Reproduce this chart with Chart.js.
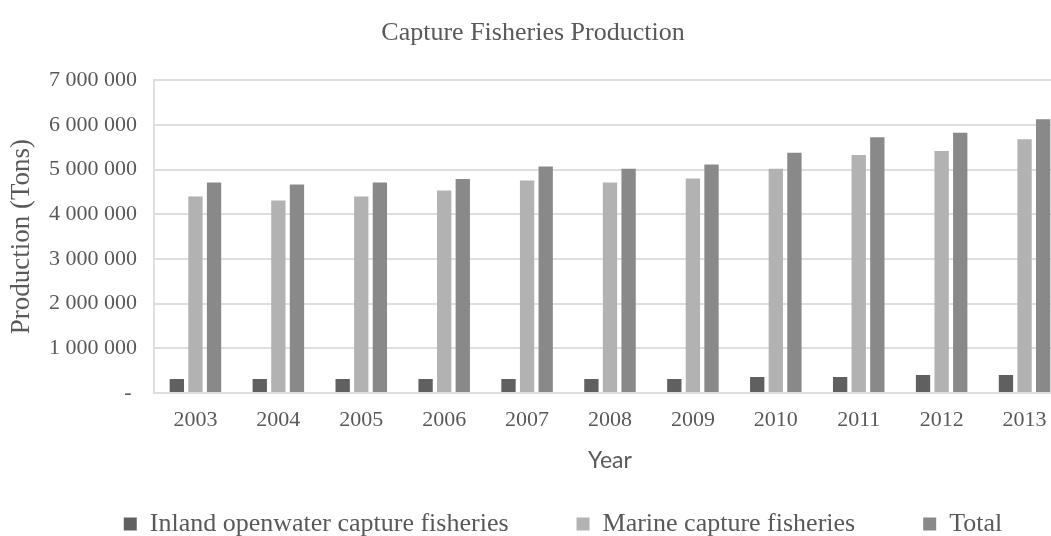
<!DOCTYPE html>
<html>
<head>
<meta charset="utf-8">
<script src="https://cdn.jsdelivr.net/npm/chart.js@4/dist/chart.umd.min.js"></script>
<style>
	html, body { margin: 0; padding: 0; background: #fff; overflow: hidden; }
	#myChart { display: block; }
</style>
</head>
<body>
<canvas id="myChart" width="1066" height="536" style="width:1066px;height:536px"></canvas>
<script>
const years = ["2003", "2004", "2005", "2006", "2007", "2008", "2009", "2010", "2011", "2012", "2013"];
const inland = [313000, 313000, 313000, 313000, 313000, 313000, 313000, 358000, 358000, 402000, 402000];
const marine = [4395000, 4306000, 4395000, 4530000, 4753000, 4708000, 4798000, 5021000, 5328000, 5417000, 5679000];
const total = [4708000, 4664000, 4708000, 4791000, 5066000, 5021000, 5111000, 5379000, 5723000, 5826000, 6126000];
const yTicks = [0, 1000000, 2000000, 3000000, 4000000, 5000000, 6000000, 7000000];

const textColor = "#595959";
const gridColor = "#dedede";

Chart.defaults.font.family = "'Liberation Serif', 'Times New Roman', serif";
Chart.defaults.color = textColor;

// thousands grouped with spaces, zero shown as a dash
const formatTons = (v) => (v === 0 ? "- " : v.toLocaleString("en-US").replace(/,/g, " "));

// the legend sits a little right of the title
const legendNudge = {
	id: "legendNudge",
	afterLayout(chart) {
		chart.legend.left += 30;
		chart.legend.right += 30;
	},
};

const ctx = document.getElementById("myChart").getContext("2d");
new Chart(ctx, {
	type: "bar",
	data: {
		labels: years,
		datasets: [
			{ label: "Inland openwater capture fisheries", data: inland, backgroundColor: "#606060" },
			{ label: "Marine capture fisheries", data: marine, backgroundColor: "#b2b2b2" },
			{ label: "Total", data: total, backgroundColor: "#898989" },
		],
	},
	options: {
		responsive: false,
		animation: false,
		devicePixelRatio: 1,
		layout: { padding: { left: 0, right: 0, top: 0, bottom: -11 } },
		datasets: {
			bar: { categoryPercentage: 0.673, barPercentage: 0.77 },
		},
		plugins: {
			title: {
				display: true,
				text: "Capture Fisheries Production",
				color: textColor,
				font: { size: 26, weight: "normal" },
				padding: { top: 18, bottom: 31 },
			},
			legend: {
				position: "bottom",
				labels: {
					boxWidth: 13,
					boxHeight: 13,
					padding: 68,
					color: textColor,
					font: { size: 26 },
				},
			},
			tooltip: { enabled: false },
		},
		scales: {
			x: {
				grid: { display: false, drawTicks: false },
				border: { display: true, color: gridColor, width: 2 },
				ticks: { padding: 14, font: { size: 22 }, color: textColor },
				title: {
					display: true,
					text: "Year",
					color: textColor,
					font: { family: "Lato, 'Open Sans', sans-serif", size: 23 },
					// tick padding counts twice in the axis height, so pull the title box up
					padding: { top: -1, bottom: -31 },
				},
			},
			y: {
				min: 0,
				max: 7000000,
				afterFit(scale) {
					scale.width = 154;
				},
				afterBuildTicks(scale) {
					scale.ticks = yTicks.map((v) => ({ value: v }));
				},
				grid: { color: gridColor, lineWidth: 2, drawTicks: false },
				border: { display: true, color: gridColor, width: 2 },
				ticks: { padding: 17, font: { size: 22 }, color: textColor, callback: formatTons },
				title: {
					display: true,
					text: "Production (Tons)",
					color: textColor,
					font: { size: 27 },
					padding: { top: 6, bottom: 0 },
				},
			},
		},
	},
	plugins: [legendNudge],
});
</script>
</body>
</html>
